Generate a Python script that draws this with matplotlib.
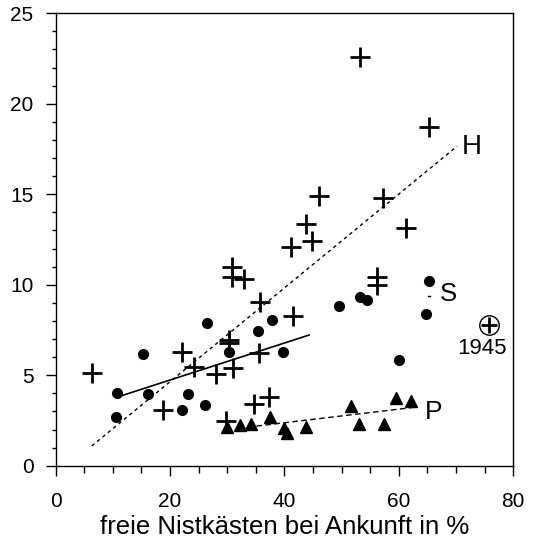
import matplotlib
matplotlib.use("Agg")
import matplotlib.pyplot as plt
from matplotlib.ticker import MultipleLocator, FixedLocator

plt.rcParams['font.family'] = ['Liberation Sans', 'DejaVu Sans']

# H series (plus markers)
h_x = [6.3, 18.8, 22.1, 24.1, 28.1, 29.8, 30.3, 30.3, 31.0, 30.8, 30.9, 32.9, 34.7,
       35.6, 35.7, 37.3, 41.2, 41.5, 43.7, 44.8, 46.1, 53.2, 56.1, 56.1, 57.3, 61.2, 65.3]
h_y = [5.1, 3.08, 6.27, 5.47, 5.05, 2.47, 6.95, 6.8, 5.41, 10.96, 10.44, 10.3, 3.39,
       6.21, 9.06, 3.81, 12.1, 8.27, 13.35, 12.4, 14.9, 22.6, 10.44, 9.98, 14.8, 13.15, 18.7]
# 1945 outlier
out_x = [75.8]
out_y = [7.78]

# S series (filled circles)
s_x = [10.5, 10.8, 15.2, 16.2, 22.1, 23.1, 26.1, 26.4, 30.35, 35.4, 37.9, 39.7,
       49.6, 53.2, 54.4, 60.0, 64.7, 65.3]
s_y = [2.71, 4.03, 6.17, 3.96, 3.08, 3.96, 3.35, 7.9, 6.3, 7.47, 8.07, 6.3,
       8.82, 9.3, 9.15, 5.84, 8.36, 10.22]

# P series (filled triangles)
p_x = [29.9, 32.3, 34.1, 37.5, 40.0, 40.5, 43.8, 51.6, 53.1, 57.4, 59.5, 62.1]
p_y = [2.15, 2.25, 2.28, 2.67, 2.07, 1.79, 2.15, 3.3, 2.28, 2.28, 3.76, 3.58]

# regression lines
h_line_x = [6.3, 70.2]
h_line_y = [1.09, 17.66]
s_line_x = [10.95, 44.3]
s_line_y = [3.81, 7.22]
s_tick_x = [65.1, 65.4]
s_tick_y = [9.4, 9.4]
p_line_x = [35.1, 62.5]
p_line_y = [2.19, 3.22]

x_ticks = [0, 20, 40, 60, 80]
y_ticks = [0, 5, 10, 15, 20, 25]

fig = plt.figure(figsize=(5.35, 5.4), dpi=100)
ax = fig.add_axes([0.1041, 0.1376, 0.9594 - 0.1041, 0.9754 - 0.1376])

ax.plot(h_line_x, h_line_y, color='black', lw=1.0, linestyle=(0, (2.5, 2.5)))
ax.plot(s_line_x, s_line_y, color='black', lw=1.2, linestyle='-')
ax.plot(s_tick_x, s_tick_y, color='black', lw=1.0, linestyle='-')
ax.plot(p_line_x, p_line_y, color='black', lw=1.0, linestyle=(0, (4, 2.5)))

ax.plot(h_x, h_y, linestyle='none', marker='+', ms=14, mew=2.0, color='black')
ax.plot(s_x, s_y, linestyle='none', marker='o', ms=7, color='black')
ax.plot(p_x, p_y, linestyle='none', marker='^', ms=8.5, color='black')
ax.plot(out_x, out_y, linestyle='none', marker='o', ms=14, mfc='none', mec='black', mew=1.0)
ax.plot(out_x, out_y, linestyle='none', marker='+', ms=11, mew=2.0, color='black')

ax.text(71.0, 17.6, 'H', fontsize=20, va='center', ha='left')
ax.text(67.2, 9.5, 'S', fontsize=18.5, va='center', ha='left')
ax.text(64.5, 2.95, 'P', fontsize=19, va='center', ha='left')
ax.text(74.6, 6.5, '1945', fontsize=16, va='center', ha='center')

ax.set_xlim(0, 80)
ax.set_ylim(0, 25)
ax.xaxis.set_major_locator(FixedLocator(x_ticks))
ax.xaxis.set_minor_locator(MultipleLocator(5))
ax.yaxis.set_major_locator(FixedLocator(y_ticks))
ax.yaxis.set_minor_locator(MultipleLocator(1))
ax.tick_params(which='major', direction='out', length=7, width=1, labelsize=15)
ax.tick_params(axis='x', which='major', pad=12)
ax.tick_params(axis='y', which='major', pad=9)
ax.tick_params(axis='x', which='minor', direction='out', length=4.8, width=1)
ax.tick_params(axis='y', which='minor', direction='out', length=3.2, width=1)
ax.set_xlabel('freie Nistkästen bei Ankunft in %', fontsize=18.5, labelpad=3)
for s in ax.spines.values():
    s.set_linewidth(1.0)

fig.savefig('out.png', dpi=100)
